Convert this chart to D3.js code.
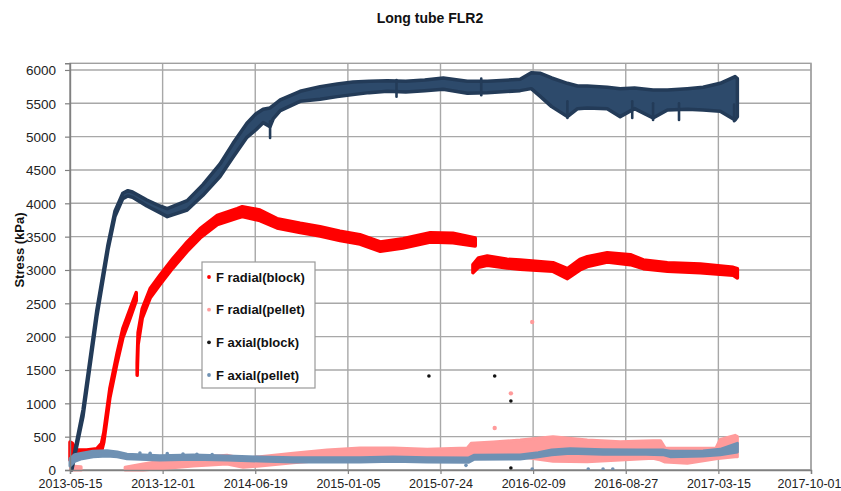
<!DOCTYPE html>
<html>
<head>
<meta charset="utf-8">
<script src="https://cdn.jsdelivr.net/npm/d3@7"></script>
<style>
  html, body { margin: 0; padding: 0; background: #fff; }
  svg { display: block; font-family: "Liberation Sans", Arial, sans-serif; }
</style>
</head>
<body>
<svg id="chart" width="841" height="491"></svg>
<script>
// Stress readings of the long tube FLR2; each entry is [date, low, high] in kPa,
// the low/high pair giving the spread of the logged points on that date.
// [null, null, null] marks a break in a series.
const xTickLabels = ["2013-05-15", "2013-12-01", "2014-06-19", "2015-01-05", "2015-07-24",
                     "2016-02-09", "2016-08-27", "2017-03-15", "2017-10-01"];
const yTickValues = [0, 500, 1000, 1500, 2000, 2500, 3000, 3500, 4000, 4500, 5000, 5500, 6000];

const seriesNames = ["F radial(block)", "F radial(pellet)", "F axial(block)", "F axial(pellet)"];

const radialBlock = [
  ["2013-05-15", 150, 420], ["2013-05-20", 180, 400], ["2013-05-28", 180, 300],
  ["2013-06-20", 200, 300], ["2013-07-12", 220, 320], ["2013-07-22", 280, 400],
  ["2013-07-27", 420, 560], ["2013-08-09", 1080, 1220], ["2013-08-25", 1620, 1760],
  ["2013-09-06", 1980, 2120], ["2013-09-22", 2280, 2420], ["2013-10-05", 2540, 2660],
  [null, null, null],
  ["2013-10-07", 1420, 1600], ["2013-10-09", 1880, 2060], ["2013-10-18", 2280, 2420],
  ["2013-11-04", 2580, 2720], ["2013-11-25", 2780, 2920], ["2013-12-23", 3030, 3170],
  ["2014-01-23", 3280, 3420], ["2014-02-20", 3480, 3620], ["2014-03-29", 3680, 3820],
  ["2014-05-11", 3780, 3920], ["2014-05-22", 3800, 3950], ["2014-06-29", 3740, 3900],
  ["2014-08-05", 3630, 3770], ["2014-09-24", 3560, 3700], ["2014-11-06", 3510, 3650],
  ["2014-12-19", 3440, 3580], ["2015-01-31", 3390, 3530], ["2015-03-16", 3280, 3420],
  ["2015-05-04", 3330, 3470], ["2015-07-02", 3420, 3560], ["2015-08-20", 3410, 3550],
  ["2015-10-07", 3360, 3480],
  [null, null, null],
  ["2015-10-02", 2960, 3080], ["2015-10-14", 3040, 3180], ["2015-11-02", 3070, 3210],
  ["2015-12-15", 3030, 3160], ["2016-01-12", 3010, 3150], ["2016-03-23", 2980, 3110],
  ["2016-04-23", 2870, 3020], ["2016-05-20", 3000, 3160], ["2016-06-05", 3050, 3200],
  ["2016-07-18", 3120, 3260], ["2016-09-06", 3080, 3230], ["2016-10-04", 3020, 3150],
  ["2016-11-25", 2980, 3110], ["2017-02-04", 2960, 3090], ["2017-04-16", 2920, 3040],
  ["2017-04-25", 2880, 3020]
];

const radialPellet = [
  ["2013-05-17", 0, 60], ["2013-06-08", 0, 50],
  [null, null, null],
  ["2013-09-11", 0, 40], ["2013-10-20", 0, 90], ["2013-11-25", 20, 130],
  ["2014-01-05", 40, 160], ["2014-02-05", 60, 180], ["2014-04-19", 90, 220],
  ["2014-05-24", 40, 170], ["2014-06-29", 60, 200], ["2014-09-09", 110, 250],
  ["2014-11-21", 150, 300], ["2015-01-31", 170, 330], ["2015-04-13", 170, 330],
  ["2015-06-25", 160, 310], ["2015-09-20", 165, 330], ["2015-09-28", 175, 400],
  ["2015-11-15", 190, 420], ["2016-01-12", 200, 450], ["2016-03-23", 130, 500],
  ["2016-06-05", 125, 450], ["2016-08-15", 150, 425], ["2016-10-25", 175, 440],
  ["2016-11-10", 150, 440], ["2016-11-20", 120, 330], ["2017-01-07", 100, 325],
  ["2017-03-10", 170, 330], ["2017-03-19", 175, 460], ["2017-04-20", 200, 520],
  ["2017-04-25", 200, 500]
];

const axialBlock = [
  ["2013-05-19", 0, 60], ["2013-06-12", 800, 900], ["2013-07-12", 2300, 2400],
  ["2013-08-05", 3300, 3380], ["2013-08-20", 3800, 3880], ["2013-09-06", 4070, 4150],
  ["2013-09-17", 4110, 4190], ["2013-09-27", 4090, 4170], ["2013-10-28", 3960, 4050],
  ["2013-11-25", 3860, 3960], ["2013-12-11", 3800, 3920], ["2014-01-23", 3900, 4040],
  ["2014-02-26", 4120, 4280], ["2014-04-04", 4400, 4590], ["2014-05-02", 4690, 4900],
  ["2014-06-01", 4990, 5200], ["2014-06-20", 5100, 5340], ["2014-07-06", 5210, 5410],
  ["2014-07-21", 5150, 5430], ["2014-07-28", 5270, 5470], ["2014-08-12", 5390, 5550],
  ["2014-09-24", 5530, 5680], ["2014-11-06", 5560, 5750], ["2014-12-13", 5600, 5790],
  ["2015-01-16", 5630, 5820], ["2015-02-20", 5660, 5830], ["2015-03-31", 5680, 5840],
  ["2015-05-10", 5670, 5830], ["2015-06-20", 5690, 5850], ["2015-07-30", 5710, 5880],
  ["2015-09-20", 5650, 5830], ["2015-11-02", 5660, 5830], ["2016-01-12", 5690, 5860],
  ["2016-02-05", 5720, 5960], ["2016-02-25", 5600, 5950], ["2016-03-20", 5450, 5880],
  ["2016-04-23", 5300, 5800], ["2016-05-15", 5420, 5760], ["2016-06-05", 5430, 5760],
  ["2016-07-18", 5420, 5740], ["2016-08-15", 5300, 5720], ["2016-09-15", 5420, 5730],
  ["2016-10-25", 5280, 5700], ["2016-11-25", 5400, 5700], ["2017-01-07", 5410, 5720],
  ["2017-02-10", 5400, 5740], ["2017-03-19", 5380, 5800], ["2017-04-20", 5250, 5900],
  ["2017-04-25", 5300, 5870]
];

const axialPellet = [
  ["2013-05-15", 60, 170], ["2013-05-25", 130, 230], ["2013-06-10", 170, 250],
  ["2013-07-04", 200, 280], ["2013-08-03", 210, 290], ["2013-08-25", 200, 270],
  ["2013-09-15", 170, 235], ["2013-11-25", 150, 215], ["2014-02-05", 160, 225],
  ["2014-04-19", 150, 210], ["2014-06-29", 135, 195], ["2014-09-09", 120, 185],
  ["2014-11-21", 120, 185], ["2015-01-31", 120, 185], ["2015-04-13", 130, 195],
  ["2015-06-25", 120, 185], ["2015-09-22", 115, 180], ["2015-10-04", 160, 220],
  ["2016-01-12", 165, 225], ["2016-02-20", 200, 260], ["2016-03-20", 230, 300],
  ["2016-04-29", 250, 320], ["2016-07-09", 235, 305], ["2016-09-21", 240, 300],
  ["2016-11-15", 230, 300], ["2016-12-01", 200, 280], ["2017-02-10", 210, 285],
  ["2017-03-19", 230, 310], ["2017-04-25", 270, 400]
];

// Isolated readings away from the main bands: [date, value]
const radialPelletOutliers = [["2015-11-18", 630], ["2015-12-23", 1150], ["2016-02-07", 2220]];
const axialBlockOutliers = [["2015-06-29", 1410], ["2015-11-18", 1410], ["2015-12-23", 1035], ["2015-12-23", 30]];
// Short drops below the axial(block) band: [date, lowest value]
const axialBlockDips = [
  ["2014-07-21", 4980], ["2015-04-20", 5600], ["2015-10-20", 5620], ["2016-04-23", 5280],
  ["2016-09-10", 5280], ["2016-10-25", 5250], ["2016-12-20", 5250], ["2017-04-18", 5230]
];
const axialPelletOutliers = [
  ["2013-10-13", 255], ["2013-11-04", 250], ["2013-12-11", 245], ["2014-01-14", 240],
  ["2014-02-13", 235], ["2014-03-18", 230], ["2015-09-17", 70], ["2016-02-07", 15],
  ["2016-06-07", 15], ["2016-07-09", 15], ["2016-07-30", 15]
];

const colors = {
  radialBlock: "#ff0000",
  radialPellet: "#ff9b9b",
  axialBlock: "#2d4a6b",
  axialBlockEdge: "#233b58",
  axialPellet: "#6f91b3"
};

const svg = d3.select("#chart");
const parse = d3.timeParse("%Y-%m-%d");
const fmt = d3.timeFormat("%Y-%m-%d");

const plotLeft = 70, plotRight = 811, plotBottom = 470, plotTop = 63.3;
const x = d3.scaleTime()
  .domain([parse(xTickLabels[0]), parse(xTickLabels[xTickLabels.length - 1])])
  .range([plotLeft, plotRight]);
const y = d3.scaleLinear().domain([0, 6100]).range([plotBottom, plotTop]);

// Title
svg.append("text")
  .attr("x", 430).attr("y", 23)
  .attr("text-anchor", "middle")
  .attr("font-size", 14).attr("font-weight", "bold").attr("fill", "#111")
  .text("Long tube FLR2");

// Grid
const grid = svg.append("g").attr("stroke", "#a8a8a8").attr("stroke-width", 1.4);
grid.selectAll("line.h").data(yTickValues).join("line").attr("class", "h")
  .attr("x1", plotLeft).attr("x2", plotRight)
  .attr("y1", d => y(d)).attr("y2", d => y(d));
grid.selectAll("line.v").data(xTickLabels).join("line").attr("class", "v")
  .attr("x1", d => x(parse(d))).attr("x2", d => x(parse(d)))
  .attr("y1", plotTop).attr("y2", plotBottom);

// Plot frame
svg.append("rect")
  .attr("x", plotLeft).attr("y", plotTop)
  .attr("width", plotRight - plotLeft).attr("height", plotBottom - plotTop)
  .attr("fill", "none").attr("stroke", "#a0a0a0").attr("stroke-width", 1.4);

// Series bands
const band = d3.area()
  .defined(d => d[1] != null)
  .x(d => x(parse(d[0])))
  .y0(d => y(d[1]))
  .y1(d => y(d[2]));

const plot = svg.append("g");
function drawSeries(data, fill, stroke, width) {
  plot.append("path")
    .datum(data)
    .attr("d", band)
    .attr("fill", fill)
    .attr("stroke", stroke)
    .attr("stroke-width", width)
    .attr("stroke-linejoin", "round");
}
function drawPoints(data, color, r) {
  plot.append("g").selectAll("circle").data(data).join("circle")
    .attr("cx", d => x(parse(d[0])))
    .attr("cy", d => y(d[1]))
    .attr("r", r)
    .attr("fill", color);
}
function drawDips(data, color) {
  // a dip runs from its lowest reading back up into the band
  plot.append("g").selectAll("line").data(data).join("line")
    .attr("x1", d => x(parse(d[0]))).attr("x2", d => x(parse(d[0])))
    .attr("y1", d => y(d[1])).attr("y2", d => y(d[1] + 250))
    .attr("stroke", color).attr("stroke-width", 2.6).attr("stroke-linecap", "round");
}

drawSeries(radialBlock, colors.radialBlock, colors.radialBlock, 3.5);
drawSeries(radialPellet, colors.radialPellet, colors.radialPellet, 3);
drawPoints(radialPelletOutliers, colors.radialPellet, 2.2);
drawSeries(axialBlock, colors.axialBlock, colors.axialBlockEdge, 3.5);
drawDips(axialBlockDips, colors.axialBlockEdge);
drawPoints(axialBlockOutliers, "#111", 1.8);
drawSeries(axialPellet, colors.axialPellet, colors.axialPellet, 3);
drawPoints(axialPelletOutliers, colors.axialPellet, 1.8);

// Axes
const xAxis = svg.append("g")
  .attr("transform", `translate(0,${plotBottom})`)
  .call(d3.axisBottom(x)
    .tickValues(xTickLabels.map(parse))
    .tickFormat(fmt)
    .tickSize(4)
    .tickPadding(5));
const yAxis = svg.append("g")
  .attr("transform", `translate(${plotLeft},0)`)
  .call(d3.axisLeft(y)
    .tickValues(yTickValues)
    .tickFormat(d3.format("d"))
    .tickSize(5)
    .tickPadding(9));

[xAxis, yAxis].forEach(g => {
  g.select(".domain").attr("stroke", "#808080").attr("stroke-width", 1.4);
  g.selectAll(".tick line").attr("stroke", "#808080").attr("stroke-width", 1.2);
  g.selectAll(".tick text")
    .attr("fill", "#222")
    .attr("font-family", "'Liberation Sans', Arial, sans-serif");
});
xAxis.selectAll(".tick text").attr("font-size", 12.5);
// keep the last date label inside the page
xAxis.selectAll(".tick:last-of-type text").attr("text-anchor", "end").attr("x", 30);
yAxis.selectAll(".tick text").attr("font-size", 13.5).attr("dy", "0.35em");

// Y axis title
svg.append("text")
  .attr("transform", "translate(24,250) rotate(-90)")
  .attr("text-anchor", "middle")
  .attr("font-size", 13).attr("font-weight", "bold").attr("fill", "#111")
  .text("Stress (kPa)");

// Legend
const legend = svg.append("g");
legend.append("rect")
  .attr("x", 202).attr("y", 262).attr("width", 113).attr("height", 126)
  .attr("fill", "#fff").attr("stroke", "#9a9a9a").attr("stroke-width", 1.2);
const legendColors = [colors.radialBlock, colors.radialPellet, "#1a1a1a", colors.axialPellet];
const legendRow = d3.scalePoint().domain(seriesNames).range([277, 375]);
const rows = legend.selectAll("g.row").data(seriesNames).join("g").attr("class", "row")
  .attr("transform", d => `translate(0,${legendRow(d)})`);
rows.append("circle")
  .attr("cx", 209).attr("cy", 0).attr("r", 1.9)
  .attr("fill", (d, i) => legendColors[i]);
rows.append("text")
  .attr("x", 216).attr("y", 0).attr("dy", "0.36em")
  .attr("font-size", 13).attr("font-weight", "bold").attr("fill", "#111")
  .text(d => d);
</script>
</body>
</html>
